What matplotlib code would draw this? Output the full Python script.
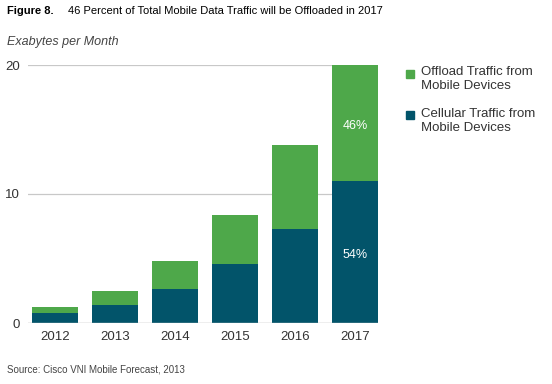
import matplotlib.pyplot as plt
from matplotlib.patches import Rectangle

plt.rcParams['font.family'] = ['Liberation Sans', 'DejaVu Sans']

years = ['2012', '2013', '2014', '2015', '2016', '2017']
cellular = [0.8, 1.4, 2.6, 4.6, 7.3, 11.0]
offload = [0.45, 1.1, 2.2, 3.8, 6.5, 9.0]
pct_labels = ['54%', '46%']

green = '#4ea84a'
teal = '#02546a'
txt = '#333333'

fig = plt.figure(figsize=(5.52, 3.84), dpi=100)
ax = fig.add_axes([28 / 552, 61 / 384, 350 / 552, 258 / 384])

x = range(len(years))
w = 46 / 60
ax.bar(x, cellular, width=w, color=teal, zorder=3)
ax.bar(x, offload, width=w, bottom=cellular, color=green, zorder=3)

ax.set_xlim(-w / 2 - 4 / 60, len(years) - 1 + w / 2)
ax.set_ylim(0, 20)
ax.set_yticks([0, 10, 20])
ax.grid(axis='y', color='#c8c8c8', linewidth=0.9, zorder=0)
for s in ax.spines.values():
    s.set_visible(False)
ax.axhline(0, color='#c8c8c8', linewidth=1.0, zorder=4)
ax.tick_params(length=0, labelsize=9.5, colors=txt, pad=6)
ax.tick_params(axis='y', pad=6)
ax.set_xticks(list(x))
ax.set_xticklabels(years)

# percentage labels on the last bar
last = len(years) - 1
ax.text(last, cellular[last] / 2 - 0.25, pct_labels[0], color='white', ha='center', va='center', fontsize=9)
ax.text(last, cellular[last] + offload[last] / 2 - 0.25, pct_labels[1], color='white', ha='center', va='center', fontsize=9)

# title, unit label and source
fig.text(7 / 552, 1 - 11 / 384, 'Figure 8.', fontsize=8, fontweight='bold', va='center', color='black')
fig.text(68 / 552, 1 - 11 / 384, '46 Percent of Total Mobile Data Traffic will be Offloaded in 2017',
         fontsize=8, va='center', color='black')
fig.text(7 / 552, 1 - 42 / 384, 'Exabytes per Month', fontsize=9, style='italic', va='center', color='#444444')
fig.text(7 / 552, 1 - 370 / 384, 'Source: Cisco VNI Mobile Forecast, 2013', fontsize=7, va='center', color='#444444')

# legend
fig.patches.append(Rectangle((406 / 552, 1 - 78 / 384), 8 / 552, 8 / 384, color=green, transform=fig.transFigure))
fig.text(421 / 552, 1 - 79 / 384, 'Offload Traffic from\nMobile Devices', fontsize=9.5, va='center',
         color=txt, linespacing=1.15)
fig.patches.append(Rectangle((406 / 552, 1 - 119 / 384), 8 / 552, 8 / 384, color=teal, transform=fig.transFigure))
fig.text(421 / 552, 1 - 121 / 384, 'Cellular Traffic from\nMobile Devices', fontsize=9.5, va='center',
         color=txt, linespacing=1.15)

fig.savefig('out.png', dpi=100)
